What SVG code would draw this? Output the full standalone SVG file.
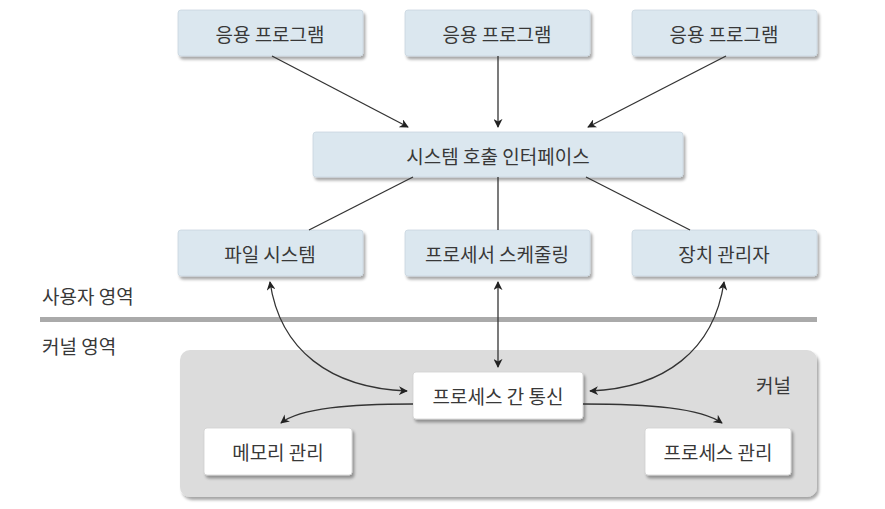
<svg xmlns="http://www.w3.org/2000/svg" width="885" height="509" viewBox="0 0 885 509">
<defs>
<filter id="sh" x="-10%" y="-20%" width="125%" height="150%">
<feGaussianBlur in="SourceAlpha" stdDeviation="1.5"/>
<feOffset dx="2" dy="3" result="b"/>
<feComponentTransfer><feFuncA type="linear" slope="0.35"/></feComponentTransfer>
<feMerge><feMergeNode/><feMergeNode in="SourceGraphic"/></feMerge>
</filter>
<marker id="ah" viewBox="0 0 10 10" refX="9" refY="5" markerWidth="9" markerHeight="9" markerUnits="userSpaceOnUse" orient="auto-start-reverse">
<path d="M0,0 L10,5 L0,10 L3,5 Z" fill="#222"/>
</marker>
</defs>
<style>
.blue{fill:#dbe7ef;stroke:#c9d6df;stroke-width:0.8;filter:url(#sh)}
.white{fill:#ffffff;stroke:#d0d0d0;stroke-width:0.8;filter:url(#sh)}
.t{font-family:"Noto Sans CJK KR","Noto Sans",sans-serif;font-size:19px;fill:#383838;text-anchor:middle;dominant-baseline:central}
.lbl{font-family:"Noto Sans CJK KR","Noto Sans",sans-serif;font-size:19px;fill:#383838}
.c{fill:none;stroke:#333;stroke-width:1.3}
</style>
<rect width="885" height="509" fill="#ffffff"/>
<g id="kernel">
<rect x="180" y="350" width="637" height="147" rx="10" fill="#dcdcdc" filter="url(#sh)"/>
<text class="lbl" x="756" y="393">커널</text>
</g>
<g id="divider">
<line x1="40" y1="319.5" x2="817" y2="319.5" stroke="#aaaaaa" stroke-width="5"/>
<text class="lbl" x="42" y="304">사용자 영역</text>
<text class="lbl" x="42" y="354">커널 영역</text>
</g>
<g id="app1"><rect class="blue" x="178" y="10" width="185" height="46" rx="3"/><text class="t" x="270" y="33">응용 프로그램</text></g>
<g id="app2"><rect class="blue" x="405" y="10" width="185" height="46" rx="3"/><text class="t" x="497" y="33">응용 프로그램</text></g>
<g id="app3"><rect class="blue" x="632" y="10" width="185" height="46" rx="3"/><text class="t" x="724" y="33">응용 프로그램</text></g>
<g id="syscall"><rect class="blue" x="313" y="132" width="370" height="45" rx="3"/><text class="t" x="498" y="155">시스템 호출 인터페이스</text></g>
<g id="fs"><rect class="blue" x="178" y="230" width="185" height="46" rx="3"/><text class="t" x="270" y="253">파일 시스템</text></g>
<g id="sched"><rect class="blue" x="405" y="230" width="185" height="46" rx="3"/><text class="t" x="497" y="253">프로세서 스케줄링</text></g>
<g id="dev"><rect class="blue" x="632" y="230" width="185" height="46" rx="3"/><text class="t" x="724" y="253">장치 관리자</text></g>
<g id="ipc"><rect class="white" x="413" y="372" width="170" height="47" rx="3"/><text class="t" x="498" y="395">프로세스 간 통신</text></g>
<g id="mem"><rect class="white" x="204" y="428" width="148" height="47" rx="3"/><text class="t" x="278" y="451">메모리 관리</text></g>
<g id="proc"><rect class="white" x="645" y="428" width="146" height="47" rx="3"/><text class="t" x="718" y="451">프로세스 관리</text></g>
<g id="connectors">
<line class="c" x1="272" y1="56" x2="408" y2="127" marker-end="url(#ah)"/>
<line class="c" x1="498" y1="56" x2="498" y2="127" marker-end="url(#ah)"/>
<line class="c" x1="726" y1="56" x2="588" y2="127" marker-end="url(#ah)"/>
<line class="c" x1="413" y1="177" x2="309" y2="230"/>
<line class="c" x1="498" y1="177" x2="498" y2="230"/>
<line class="c" x1="586" y1="177" x2="690" y2="230"/>
<path class="c" d="M270,282 C280,350 330,388 407,391" marker-start="url(#ah)" marker-end="url(#ah)"/>
<line class="c" x1="498" y1="282" x2="498" y2="367" marker-start="url(#ah)" marker-end="url(#ah)"/>
<path class="c" d="M724,282 C714,350 665,388 590,391" marker-start="url(#ah)" marker-end="url(#ah)"/>
<path class="c" d="M413,404 C350,404 300,408 281,423" marker-end="url(#ah)"/>
<path class="c" d="M583,404 C650,404 700,408 722,423" marker-end="url(#ah)"/>
</g>
</svg>
